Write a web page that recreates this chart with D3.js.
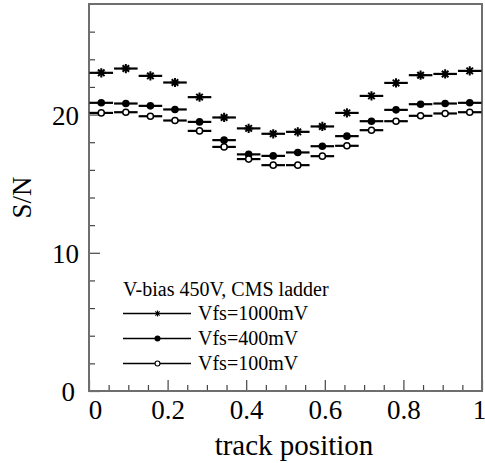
<!DOCTYPE html>
<html>
<head>
<meta charset="utf-8">
<script src="https://cdn.jsdelivr.net/npm/d3@7"></script>
<style>
  html, body { margin: 0; padding: 0; background: #fff; }
  svg { display: block; }
  text { font-family: "Liberation Serif", "Times New Roman", serif; fill: #000; }
</style>
</head>
<body>
<svg id="chart" width="485" height="463"></svg>
<script>
// Bin centres along the ladder (16 equal bins) and half bin width
const trackPos = [0.03125, 0.09375, 0.15625, 0.21875, 0.28125, 0.34375, 0.40625, 0.46875,
                  0.53125, 0.59375, 0.65625, 0.71875, 0.78125, 0.84375, 0.90625, 0.96875];
const binHalf = 0.03125;

// Signal-to-noise per bin for three Vfs settings
const snVfs1000 = [23.02, 23.33, 22.80, 22.32, 21.26, 19.79, 19.00, 18.61,
                   18.75, 19.14, 20.12, 21.35, 22.29, 22.85, 22.94, 23.16];
const snVfs400  = [20.85, 20.80, 20.63, 20.37, 19.47, 18.15, 17.12, 17.01,
                   17.26, 17.71, 18.44, 19.52, 20.34, 20.75, 20.80, 20.85];
const snVfs100  = [20.12, 20.17, 19.88, 19.57, 18.82, 17.66, 16.78, 16.34,
                   16.34, 16.99, 17.74, 18.87, 19.52, 19.91, 20.08, 20.17];

const seriesNames = ["Vfs=1000mV", "Vfs=400mV", "Vfs=100mV"];
const seriesMarks = ["star", "dot", "ring"];
const legendTitle = "V-bias 450V, CMS ladder";

const xMajor = [0, 0.2, 0.4, 0.6, 0.8, 1];
const xMinor = [0.05, 0.1, 0.15, 0.25, 0.3, 0.35, 0.45, 0.5, 0.55, 0.65, 0.7, 0.75, 0.85, 0.9, 0.95];
const yMajor = [0, 10, 20];
const yMinor = [2, 4, 6, 8, 12, 14, 16, 18, 22, 24, 26];

const svg = d3.select("#chart");
const x = d3.scaleLinear().domain([0, 1]).range([89, 482]);
const y = d3.scaleLinear().domain([0, 28]).range([391, 4]);

const axisColor = "#6e6e6e";

// Inward ticks on the left and bottom axes
function styleAxis(g) {
  g.select(".domain").remove();
  g.selectAll(".tick line").attr("stroke", "#444").attr("stroke-width", 1.2);
}

svg.append("g").attr("transform", `translate(0,${y(0)})`)
  .call(d3.axisBottom(x).tickValues(xMinor).tickSize(-6).tickFormat(""))
  .call(styleAxis);
const gx = svg.append("g").attr("transform", `translate(0,${y(0)})`)
  .call(d3.axisBottom(x).tickValues(xMajor).tickSize(-11).tickPadding(0)
        .tickFormat(d => d === 0 ? "0" : d3.format("~g")(d)))
  .call(styleAxis);
// end labels nudged inward so they clear the corner and the page edge
gx.selectAll(".tick text")
  .attr("font-size", 27).attr("font-family", "'Liberation Serif', serif")
  .attr("y", 28).attr("dy", 0)
  .attr("dx", d => d === 0 ? 6 : (d === 1 ? -3 : 0));

svg.append("g").attr("transform", `translate(${x(0)},0)`)
  .call(d3.axisLeft(y).tickValues(yMinor).tickSize(-6).tickFormat(""))
  .call(styleAxis);
const gy = svg.append("g").attr("transform", `translate(${x(0)},0)`)
  .call(d3.axisLeft(y).tickValues(yMajor).tickSize(-11).tickPadding(0).tickFormat(d3.format("d")))
  .call(styleAxis);
gy.selectAll(".tick text")
  .attr("font-size", 27).attr("font-family", "'Liberation Serif', serif")
  .attr("x", d => d === 0 ? -14 : -10).attr("dy", "0.36em");

// Plot frame
svg.append("rect")
  .attr("x", x(0)).attr("y", y(28))
  .attr("width", x(1) - x(0)).attr("height", y(0) - y(28))
  .attr("fill", "none").attr("stroke", axisColor).attr("stroke-width", 2);

// Axis titles
svg.append("text")
  .attr("x", 294).attr("y", 455)
  .attr("text-anchor", "middle").attr("font-size", 29)
  .text("track position");
svg.append("text")
  .attr("transform", `translate(31,${(y(0) + y(28)) / 2}) rotate(-90)`)
  .attr("text-anchor", "middle").attr("font-size", 27)
  .text("S/N");

// Marker drawing
function drawMarker(g, kind, cx, cy, r, sw) {
  if (kind === "star") {
    const d = r * Math.SQRT1_2;
    const p = d3.path();
    p.moveTo(cx - r, cy); p.lineTo(cx + r, cy);
    p.moveTo(cx, cy - r); p.lineTo(cx, cy + r);
    p.moveTo(cx - d, cy - d); p.lineTo(cx + d, cy + d);
    p.moveTo(cx - d, cy + d); p.lineTo(cx + d, cy - d);
    g.append("path").attr("d", p.toString()).attr("stroke", "#000")
      .attr("stroke-width", sw).attr("fill", "none");
  } else if (kind === "dot") {
    g.append("circle").attr("cx", cx).attr("cy", cy).attr("r", r).attr("fill", "#000");
  } else {
    g.append("circle").attr("cx", cx).attr("cy", cy).attr("r", r - sw / 2)
      .attr("fill", "#fff").attr("stroke", "#000").attr("stroke-width", sw);
  }
}

// Data: horizontal bin-width bars with a marker at each bin centre
const allSeries = [snVfs1000, snVfs400, snVfs100];
allSeries.forEach((vals, si) => {
  const g = svg.append("g");
  g.selectAll("line.bin")
    .data(vals)
    .join("line")
    .attr("class", "bin")
    .attr("x1", (d, i) => x(trackPos[i] - binHalf) + 0.5)
    .attr("x2", (d, i) => x(trackPos[i] + binHalf) - 0.5)
    .attr("y1", d => y(d)).attr("y2", d => y(d))
    .attr("stroke", "#000").attr("stroke-width", 2.2);
  vals.forEach((v, i) => {
    const isStar = seriesMarks[si] === "star";
    drawMarker(g, seriesMarks[si], x(trackPos[i]), y(v), isStar ? 4.6 : 3.8, isStar ? 2 : 1.5);
  });
});

// Legend
const leg = svg.append("g");
leg.append("text").attr("x", 123).attr("y", 296).attr("font-size", 20).text(legendTitle);
seriesNames.forEach((name, i) => {
  const ly = 313.5 + i * 25;
  leg.append("line").attr("x1", 123).attr("x2", 191).attr("y1", ly).attr("y2", ly)
    .attr("stroke", "#000").attr("stroke-width", 1.6);
  drawMarker(leg, seriesMarks[i], 157.5, ly, 3, 1.1);
  leg.append("text").attr("x", 198).attr("y", ly + 6.5).attr("font-size", 20).text(name);
});
</script>
</body>
</html>
